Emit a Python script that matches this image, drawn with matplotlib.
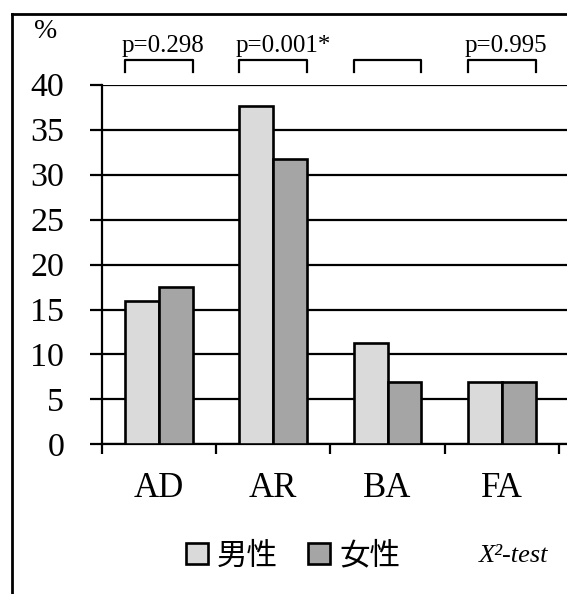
import matplotlib
matplotlib.use('Agg')
import matplotlib.pyplot as plt
from matplotlib.lines import Line2D
import numpy as np

plt.rcParams['font.family'] = ['Liberation Serif', 'Noto Sans CJK JP']

# data
categories = ['AD', 'AR', 'BA', 'FA']
male = [16.0, 37.6, 11.3, 6.9]
female = [17.5, 31.7, 6.9, 6.9]
p_labels = ['p=0.298', 'p=0.001*', '', 'p=0.995']
y_ticks = [0, 5, 10, 15, 20, 25, 30, 35, 40]
legend_names = ['男性', '女性']

fig = plt.figure(figsize=(5.67, 5.94), dpi=100)
ax = fig.add_axes([0.1794, 0.2517, 0.8206, 0.606])

x = np.arange(len(categories))
w = 0.297
b1 = ax.bar(x - w/2, male, w, color='#dadada', edgecolor='black', linewidth=1.9, zorder=3)
b2 = ax.bar(x + w/2, female, w, color='#a5a5a5', edgecolor='black', linewidth=1.9, zorder=3)

ax.set_xlim(-0.5, 3.57)
ax.set_ylim(0, 40)

# horizontal grid lines
for v in y_ticks:
    ax.axhline(v, color='black', linewidth=1.6, zorder=1)

for s in ['top', 'right']:
    ax.spines[s].set_visible(False)
ax.spines['left'].set_linewidth(1.6)
ax.spines['bottom'].set_linewidth(1.6)

ax.set_yticks(y_ticks)
ax.set_yticklabels([str(v) for v in y_ticks], fontsize=24.5)
ax.tick_params(axis='y', direction='out', length=8.5, width=1.6, pad=18.5)

# category boundaries as ticks, names in between
ax.set_xticks([-0.5, 0.5, 1.5, 2.5, 3.5])
ax.set_xticklabels([])
ax.tick_params(axis='x', which='major', direction='out', length=7.5, width=1.6)
ax.set_xticks(x, minor=True)
ax.set_xticklabels(categories, minor=True, fontsize=25)
ax.tick_params(axis='x', which='minor', length=0, pad=20)

# brackets and p values
for i in range(len(categories)):
    l = i - w
    r = i + w
    ax.plot([l, l, r, r], [41.4, 42.7, 42.7, 41.4], color='black', linewidth=1.6, clip_on=False)
    if p_labels[i]:
        ax.text(l - 0.03, 43.6, p_labels[i], fontsize=18, ha='left', va='baseline')

fig.text(46/567, 1 - 32/594, '%', fontsize=20, ha='center', va='center')

leg = fig.legend([b1, b2], legend_names, loc='center', bbox_to_anchor=(0.517, 0.064),
                 ncol=2, frameon=False, prop={'family': ['Noto Sans CJK JP'], 'size': 22},
                 handlelength=0.72, handleheight=0.68, handletextpad=0.3, columnspacing=1.0)

fig.text(548/567, 1 - 556/594, 'X²-test', fontsize=19, style='italic', ha='right', va='center')

# outer frame (cut off on the right and bottom)
fig.add_artist(Line2D([12/567, 12/567], [0, 1 - 14/594], color='black', linewidth=2))
fig.add_artist(Line2D([12/567, 1], [1 - 14/594, 1 - 14/594], color='black', linewidth=2))

plt.savefig('out.png')
